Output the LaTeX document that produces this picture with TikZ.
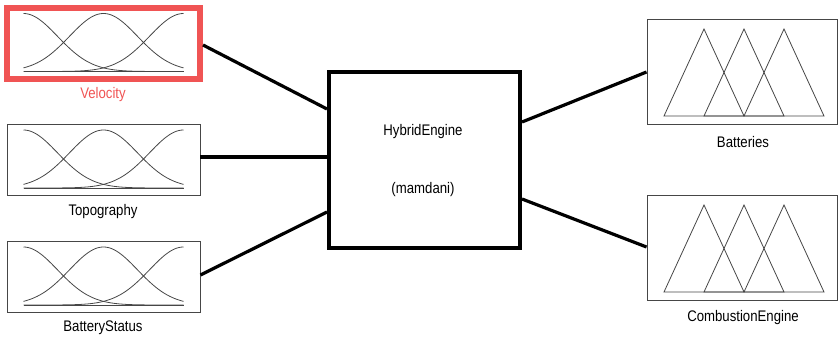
\documentclass[tikz,border=0pt]{standalone}
\usepackage{fontspec}
\setmainfont{Liberation Sans}
\newfontfamily\labelfont[FakeStretch=0.86]{Liberation Sans}
\usetikzlibrary{calc}
\definecolor{selred}{RGB}{240,84,84}
\definecolor{mfgray}{RGB}{70,70,70}

\tikzset{
  inbox/.style={draw=mfgray, line width=0.7pt, minimum width=144.75pt, minimum height=53.25pt, inner sep=0pt},
  outbox/.style={draw=mfgray, line width=0.7pt, minimum width=142.5pt, minimum height=79pt, inner sep=0pt},
  fisbox/.style={draw, line width=3pt, minimum width=143.25pt, minimum height=132pt, inner sep=0pt},
  link/.style={line width=2.4pt},
  lbl/.style={font=\labelfont\fontsize{11.5}{13}\selectfont, inner sep=0pt},
  mfline/.style={mfgray, line width=0.6pt}
}

% three gaussian membership functions inside a box
\newcommand{\gaussmf}[1]{%
  \begin{scope}[shift={(#1.center)}]
    \foreach \c in {-80,0,80}
      \draw[mfline] plot[domain=-80:80, samples=70, smooth] (\x, {28-58*exp(-0.5*((\x-\c)/34)^2)});
    \draw[mfline] (-80,28) -- (80,28);
  \end{scope}}

% three triangular membership functions inside a box
\newcommand{\trimf}[1]{%
  \begin{scope}[shift={(#1.center)}]
    \foreach \c in {-38,2,42}
      \draw[mfline] (\c-40,44) -- (\c,-43) -- (\c+40,44) -- cycle;
  \end{scope}}

\begin{document}
\begin{tikzpicture}[x=0.75pt,y=0.75pt,yscale=-1,xscale=1]
\useasboundingbox (0,0) rectangle (839,339);

% inputs
\node[inbox, draw=selred, line width=4.5pt] (vel) at (103.5,43.5) {};
\node[inbox] (topo) at (103.5,160) {};
\node[inbox] (batst) at (103.5,277) {};
\gaussmf{vel}
\gaussmf{topo}
\gaussmf{batst}

% fuzzy system
\node[fisbox] (eng) at (424.5,160) {};

% outputs
\node[outbox] (batt) at (742,72) {};
\node[outbox] (comb) at (742,248) {};
\trimf{batt}
\trimf{comb}

% Text Node
\node[lbl, text=selred] (vellbl) at (103,95) {Velocity};
\node[lbl] (topolbl) at (103,212) {Topography};
\node[lbl] (batstlbl) at (103,328) {BatteryStatus};
\node[lbl] (englbl) at (423,132) {HybridEngine};
\node[lbl] (typelbl) at (423,190) {(mamdani)};
\node[lbl] (battlbl) at (743,142) {Batteries};
\node[lbl] (comblbl) at (743,318) {CombustionEngine};

% connectors
\draw[link] ($(vel.east)+(0,1.5)$) -- ($(eng.west)+(0,-51)$);
\draw[link] ($(topo.east)+(0,-3)$) -- ($(eng.west)+(0,-3)$);
\draw[link] ($(batst.east)+(0,-2)$) -- ($(eng.west)+(0,52)$);
\draw[link] ($(eng.east)+(0,-38)$) -- (batt.west);
\draw[link] ($(eng.east)+(0,39)$) -- ($(comb.west)+(0,-1)$);

\end{tikzpicture}
\end{document}
